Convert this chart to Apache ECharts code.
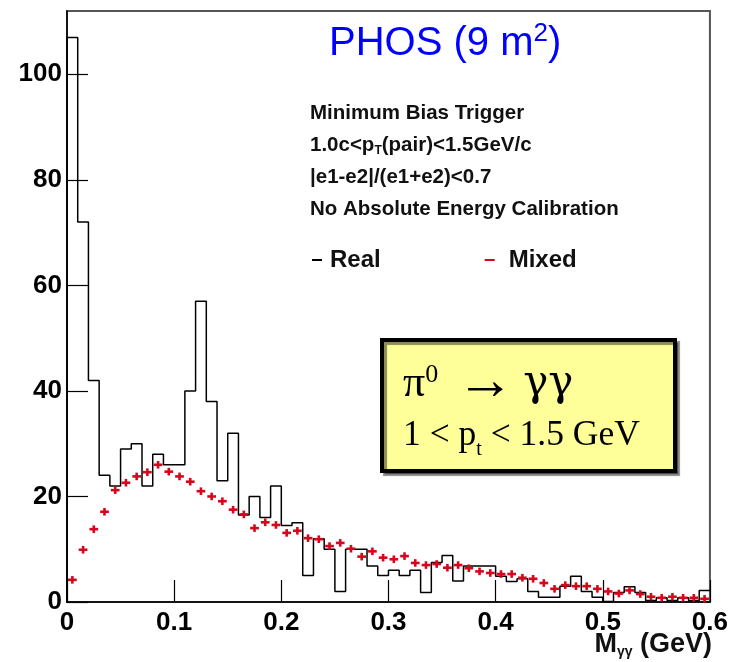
<!DOCTYPE html>
<html><head><meta charset="utf-8">
<script src="https://cdn.jsdelivr.net/npm/echarts@6/dist/echarts.min.js"></script>
<style>html,body{margin:0;padding:0;background:#fff}#c{width:731px;height:662px}</style>
</head><body><div id="c"></div>
<script>
// ---- data ----
const binLow = [0.00,0.01,0.02,0.03,0.04,0.05,0.06,0.07,0.08,0.09,
                0.10,0.11,0.12,0.13,0.14,0.15,0.16,0.17,0.18,0.19,
                0.20,0.21,0.22,0.23,0.24,0.25,0.26,0.27,0.28,0.29,
                0.30,0.31,0.32,0.33,0.34,0.35,0.36,0.37,0.38,0.39,
                0.40,0.41,0.42,0.43,0.44,0.45,0.46,0.47,0.48,0.49,
                0.50,0.51,0.52,0.53,0.54,0.55,0.56,0.57,0.58,0.59];
const binWidth = 0.01;
const realCounts = [107,72,42,24,22,29,30,22,28,26,
                    26,40,57,38,23,32,16.5,20,16,22,
                    14.5,15,5,12,10,2,10,10,6.8,5,
                    6,5,6,1.8,7.5,8.8,4,6.8,6.8,6.8,
                    4.9,3.9,4.4,2,0.9,0.9,3,4.9,2,0.9,
                    0.1,1.8,2.9,1.8,0.3,0.8,0.3,0.8,0.3,2.2];
const mixedCounts = [4.2,9.9,13.8,17.1,21.2,22.6,23.8,24.6,26.0,24.7,
                     23.8,22.8,21.0,20.0,19.1,17.5,16.6,14.0,15.1,14.6,
                     13.1,13.5,12.1,11.9,10.6,11.2,10.1,8.6,9.6,8.4,
                     8.1,8.7,7.4,7.0,7.2,6.5,7.0,6.4,5.8,5.5,
                     5.3,5.3,4.6,4.4,3.6,2.5,3.2,3.0,3.0,2.5,
                     2.0,1.6,2.2,1.5,1.0,0.8,1.0,0.8,0.8,0.6];
const xTicks = [0,0.1,0.2,0.3,0.4,0.5,0.6];
const yTicks = [0,20,40,60,80,100];
const seriesNames = ['Real','Mixed'];
const infoLines = ['Minimum Bias Trigger','{b|1.0c<p}{s|T}{b|(pair)<1.5GeV/c}','|e1-e2|/(e1+e2)<0.7','No Absolute Energy Calibration'];

// ---- chart ----
const SANS = '"Liberation Sans", Arial, Helvetica, sans-serif';
const SERIF = '"Liberation Serif", "Times New Roman", "DejaVu Serif", serif';
const DSERIF = '"DejaVu Serif", "Liberation Serif", serif';
const RED = '#d6061c';
const chart = echarts.init(document.getElementById('c'), null, {renderer:'canvas'});

const realData = [[binLow[0], 0]].concat(binLow.map((b, i) => [b + binWidth, realCounts[i]]));
const mixedData = binLow.map((b, i) => [b, mixedCounts[i]]);

const infoGraphics = infoLines.map((t, i) => ({
  type:'text', left:310, top: 103 + i*32,
  style:{text:t, fill:'#111', font:'bold 20.5px ' + SANS,
    rich:{b:{fontFamily:SANS, fontWeight:'bold', fontSize:20.5, lineHeight:22, fill:'#111'},
          s:{fontFamily:SANS, fontWeight:'bold', fontSize:12, lineHeight:10, verticalAlign:'bottom', fill:'#111'}}}
}));

chart.setOption({
  animation:false,
  backgroundColor:'#fff',
  grid:{left:67, right:21, top:11, bottom:60, show:true, borderColor:'#555', borderWidth:2, backgroundColor:'transparent'},
  title:{
    text:'{a|PHOS (9 m}{s|2}{a|)}', left:324, top:16,
    textStyle:{rich:{
      a:{fontFamily:SANS, fontWeight:'normal', fontSize:40, color:'#0000ff', lineHeight:46, verticalAlign:'middle'},
      s:{fontFamily:SANS, fontWeight:'normal', fontSize:26, color:'#0000ff', lineHeight:38, verticalAlign:'top'}
    }}
  },
  legend:{
    left:307, top:243, itemWidth:10, itemHeight:2, itemGap:104,
    textStyle:{fontFamily:SANS, fontWeight:'bold', fontSize:24, color:'#111', padding:[0,0,0,3]},
    data:[{name:seriesNames[0], icon:'rect', itemStyle:{color:'#000'}},
          {name:seriesNames[1], icon:'rect', itemStyle:{color:RED}, textStyle:{padding:[0,0,0,9]}}]
  },
  xAxis:{
    type:'value', min:0, max:0.6, interval:0.1,
    axisLine:{show:true, lineStyle:{color:'#000', width:1.5}},
    axisTick:{show:true, inside:true, length:22, lineStyle:{color:'#000', width:1.2}, customValues:xTicks},
    axisLabel:{fontFamily:SANS, fontWeight:'bold', fontSize:26, color:'#000', margin:8, customValues:xTicks,
      formatter:v => String(v)},
    splitLine:{show:false}
  },
  yAxis:{
    type:'value', min:0, max:112, interval:20,
    axisLine:{show:true, lineStyle:{color:'#000', width:1.5}},
    axisTick:{show:true, inside:true, length:21, lineStyle:{color:'#000', width:1.2}, customValues:yTicks},
    axisLabel:{fontFamily:SANS, fontWeight:'bold', fontSize:26, color:'#000', margin:5, customValues:yTicks},
    splitLine:{show:false}
  },
  series:[
    {name:seriesNames[0], type:'line', step:'start', data:realData, showSymbol:false, symbol:'none',
     lineStyle:{color:'#000', width:1.5}, itemStyle:{color:'#000'}, z:2},
    {name:seriesNames[1], type:'custom', data:mixedData, itemStyle:{color:RED}, z:3,
     renderItem:(params, api) => {
       const x0 = api.value(0), v = api.value(1);
       const p0 = api.coord([x0, v]);
       const p1 = api.coord([x0 + binWidth, v]);
       const cx = (p0[0] + p1[0]) / 2;
       const st = {stroke:RED, lineWidth:2.6};
       return {type:'group', children:[
         {type:'line', shape:{x1:p0[0]+1, y1:p0[1], x2:p1[0]-1, y2:p1[1]}, style:st},
         {type:'line', shape:{x1:cx, y1:p0[1]-3.8, x2:cx, y2:p0[1]+3.8}, style:st}
       ]};
     }}
  ],
  graphic:[
    ...infoGraphics,
    {type:'rect', shape:{x:382, y:340, width:293, height:131},
     style:{fill:'#ffff99', stroke:'#000', lineWidth:4, shadowColor:'rgba(0,0,0,0.45)', shadowOffsetX:3, shadowOffsetY:3, shadowBlur:1}, z:10},
    {type:'text', x:403, y:384, z:11,
     style:{text:'{t|π}{u|0}{a|→}{g|γγ}', verticalAlign:'middle',
       rich:{t:{fontFamily:SERIF, fontSize:44, lineHeight:44, fill:'#000'},
             a:{fontFamily:SERIF, fontSize:58, lineHeight:44, fill:'#000', padding:[0,9,0,18]},
             g:{fontFamily:DSERIF, fontSize:42, lineHeight:44, fill:'#000'},
             u:{fontFamily:SERIF, fontSize:26, lineHeight:20, verticalAlign:'top', fill:'#000'}}}},
    {type:'text', x:403, y:436, z:11,
     style:{text:'{t|1 < p}{s|t}{t| < 1.5 GeV}', verticalAlign:'middle',
       rich:{t:{fontFamily:SERIF, fontSize:35.5, lineHeight:48, fill:'#000'},
             s:{fontFamily:SERIF, fontSize:20, lineHeight:14, verticalAlign:'bottom', fill:'#000'}}}},
    {type:'text', right:19, top:631, z:11,
     style:{text:'{a|M}{s|γγ}{a| (GeV)}', align:'right',
       rich:{a:{fontFamily:SANS, fontWeight:'bold', fontSize:27, lineHeight:30, fill:'#111'},
             s:{fontFamily:SANS, fontWeight:'bold', fontSize:14, lineHeight:14, verticalAlign:'bottom', fill:'#111'}}}}
  ]
});
</script></body></html>
